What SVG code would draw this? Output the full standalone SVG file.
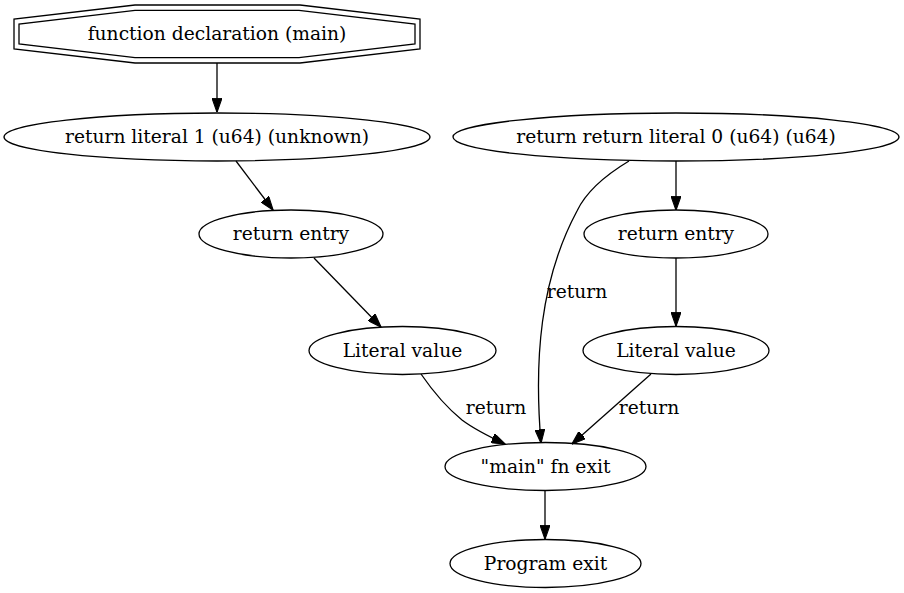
<svg xmlns="http://www.w3.org/2000/svg" width="904" height="593" viewBox="0 0 904 593">
<style>
.n{fill:none;stroke:#000;stroke-width:1.3}
.t{font-family:"DejaVu Serif","Liberation Serif",serif;font-size:18.67px;text-anchor:middle;fill:#000}
.e{fill:none;stroke:#000;stroke-width:1.3;marker-end:url(#ah)}
</style>
<defs>
<marker id="ah" markerUnits="userSpaceOnUse" markerWidth="14" markerHeight="10" viewBox="0 0 13.33 9.33" refX="13" refY="4.67" orient="auto">
<path d="M0,0 L13.33,4.67 L0,9.33 z" fill="#000" stroke="#000" stroke-width="1"/>
</marker>
</defs>
<rect width="904" height="593" fill="#fff"/>
<g id="edges">
<path class="e" d="M217,63 L217,112"/>
<path class="e" d="M236,161 L273,210"/>
<path class="e" d="M314,258 L381,327"/>
<path class="e" d="M421,374 C432,390 446,407 462,420 C474,429 490,437 505,444"/>
<text class="t" x="496" y="414">return</text>
<path class="e" d="M676,161 L676,210"/>
<path class="e" d="M676,258 L676,326"/>
<path class="e" d="M651,374 L572,444"/>
<text class="t" x="649" y="414">return</text>
<path class="e" d="M629,161 C604,176 586,192 577,211 C540,280 534,360 541,443"/>
<text class="t" x="577" y="298">return</text>
<path class="e" d="M545,490 L545,539"/>
</g>
<g id="fn_decl">
<polygon class="n" points="300,5 420,19 420,49 300,63 135,63 14,49 14,19 135,5"/>
<polygon class="n" points="299,10.3 415,24 415,44 299,57.7 135,57.7 19,44 19,24 135,10.3"/>
<text class="t" x="217" y="40">function declaration (main)</text>
</g>
<g id="ret_lit1">
<ellipse class="n" cx="217" cy="137" rx="213" ry="24"/>
<text class="t" x="217" y="143">return literal 1 (u64) (unknown)</text>
</g>
<g id="ret_ret_lit0">
<ellipse class="n" cx="676" cy="137" rx="223" ry="24"/>
<text class="t" x="676" y="143">return return literal 0 (u64) (u64)</text>
</g>
<g id="ret_entry_l">
<ellipse class="n" cx="291" cy="234" rx="92" ry="24"/>
<text class="t" x="291" y="240">return entry</text>
</g>
<g id="ret_entry_r">
<ellipse class="n" cx="676" cy="234" rx="92" ry="24"/>
<text class="t" x="676" y="240">return entry</text>
</g>
<g id="lit_l">
<ellipse class="n" cx="402.5" cy="350.5" rx="93.5" ry="24"/>
<text class="t" x="402.5" y="356.5">Literal value</text>
</g>
<g id="lit_r">
<ellipse class="n" cx="676" cy="350.5" rx="93" ry="24"/>
<text class="t" x="676" y="356.5">Literal value</text>
</g>
<g id="main_exit">
<ellipse class="n" cx="545.5" cy="466.5" rx="100.5" ry="24"/>
<text class="t" x="545.5" y="472.5">"main" fn exit</text>
</g>
<g id="prog_exit">
<ellipse class="n" cx="545.5" cy="563.5" rx="95.5" ry="24"/>
<text class="t" x="545.5" y="569.5">Program exit</text>
</g>
</svg>
